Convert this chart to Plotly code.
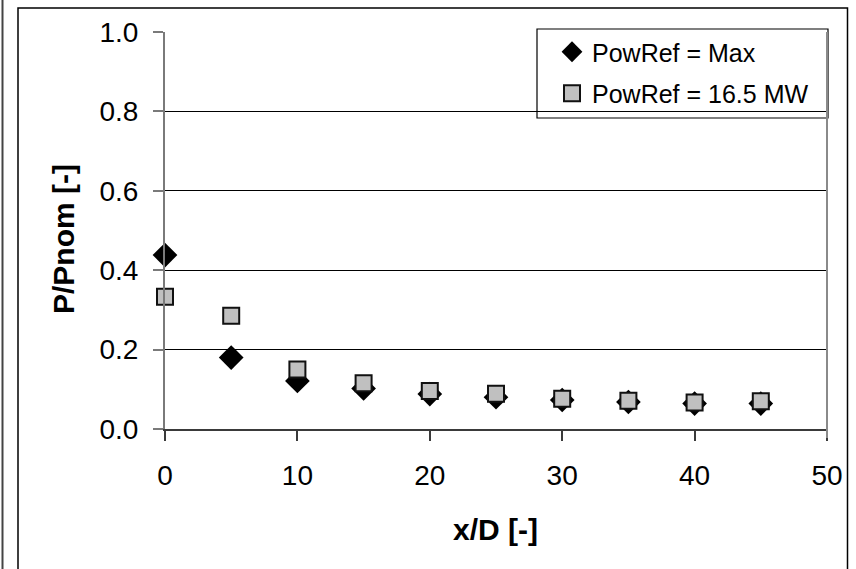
import plotly.graph_objects as go

x_d = [0, 5, 10, 15, 20, 25, 30, 35, 40, 45]
p_max = [0.438, 0.180, 0.121, 0.102, 0.088, 0.080, 0.073, 0.068, 0.064, 0.064]
p_165 = [0.333, 0.285, 0.150, 0.115, 0.096, 0.089, 0.076, 0.071, 0.067, 0.070]
name_max = "PowRef = Max"
name_165 = "PowRef = 16.5 MW"
x_ticks = [0, 10, 20, 30, 40, 50]
y_ticks = [0.0, 0.2, 0.4, 0.6, 0.8, 1.0]

FONT = "Liberation Sans, Arial, sans-serif"

fig = go.Figure()
fig.add_trace(go.Scatter(
    x=x_d, y=p_max, mode="markers", name=name_max, legendgroup="a",
    marker=dict(symbol="diamond", size=19, color="black", line=dict(width=0)),
    cliponaxis=False,
))
fig.add_trace(go.Scatter(
    x=x_d, y=p_165, mode="markers", name=name_165, legendgroup="b",
    marker=dict(symbol="square", size=16, color="#c0c0c0", line=dict(width=2, color="#111111")),
    cliponaxis=False,
))

def px(v):
    return (v - 165) / 662.0

def py(v):
    return (429 - v) / 397.0

shapes = [
    # legend box
    dict(type="rect", xref="paper", yref="paper", x0=px(537), x1=px(828), y0=py(118), y1=py(29),
         line=dict(color="black", width=1.2), fillcolor="white", layer="below"),
    # right border of plot area
    dict(type="line", xref="paper", yref="paper", x0=1, x1=1, y0=py(438), y1=1,
         line=dict(color="#8a8a8a", width=2)),
    # outer frame
    dict(type="rect", xref="paper", yref="paper", x0=px(18), x1=px(847.5), y0=py(580), y1=py(8),
         line=dict(color="black", width=1.5), fillcolor="rgba(0,0,0,0)", layer="above"),
    # partial left line
    dict(type="line", xref="paper", yref="paper", x0=px(2.5), x1=px(2.5), y0=py(580), y1=py(-5),
         line=dict(color="#444444", width=2)),
]

annotations = [
    dict(text="<b>x/D [-]</b>", xref="paper", yref="paper", x=px(495), y=py(529),
         showarrow=False, xanchor="center", yanchor="middle",
         font=dict(family=FONT, size=30, color="black")),
    dict(text="<b>P/Pnom [-]</b>", xref="paper", yref="paper", x=px(63), y=py(239),
         showarrow=False, xanchor="center", yanchor="middle", textangle=-90,
         font=dict(family=FONT, size=30, color="black")),
]

fig.update_layout(
    width=856, height=569,
    margin=dict(l=165, r=29, t=32, b=140),
    paper_bgcolor="white", plot_bgcolor="white",
    font=dict(family=FONT, color="black"),
    showlegend=True,
    legend=dict(x=px(552), y=py(29), xanchor="left", yanchor="top",
                bgcolor="rgba(0,0,0,0)", borderwidth=0, tracegroupgap=6,
                font=dict(family=FONT, size=25, color="black")),
    shapes=shapes,
    annotations=annotations,
    xaxis=dict(range=[0, 50], tickvals=x_ticks, ticktext=[str(v) for v in x_ticks],
               showgrid=False, zeroline=False, showline=True, linecolor="#3a3a3a", linewidth=2,
               ticks="outside", ticklen=10, tickwidth=1.5, tickcolor="#3a3a3a",
               tickfont=dict(family=FONT, size=28, color="black"), ticklabelstandoff=10),
    yaxis=dict(range=[0, 1], tickvals=y_ticks, ticktext=[f"{v:.1f}" for v in y_ticks],
               showgrid=True, gridcolor="black", gridwidth=1, zeroline=False,
               showline=True, linecolor="#7a7a7a", linewidth=2,
               ticks="outside", ticklen=10, tickwidth=1.5, tickcolor="#7a7a7a",
               tickfont=dict(family=FONT, size=28, color="black"), ticklabelstandoff=9),
)

fig.write_html("out.html")
